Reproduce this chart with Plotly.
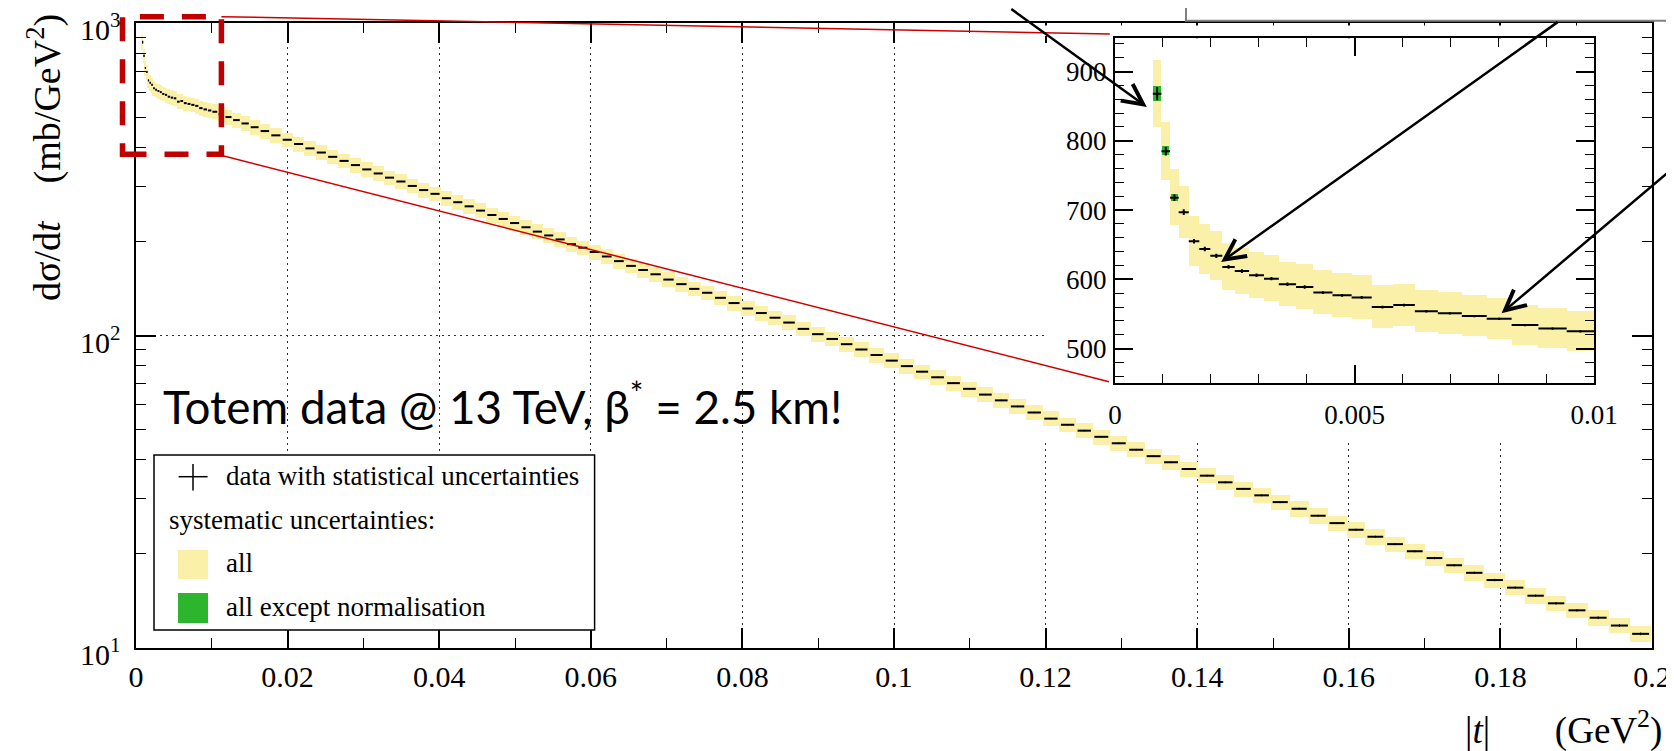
import math
import plotly.graph_objects as go

# ---------------- data ----------------
# bin edges in |t| (GeV^2)
t_edges = [
    0.00079, 0.00097, 0.00115, 0.00133, 0.00154, 0.00176, 0.00199, 0.00224, 0.00250, 0.00280,
    0.00311, 0.00342, 0.00378, 0.00414, 0.00454, 0.00494, 0.00536, 0.00581, 0.00626, 0.00674,
    0.00724, 0.00776, 0.00828, 0.00884, 0.00943, 0.01000,
    0.0108, 0.0117, 0.0127, 0.0138, 0.0150, 0.0163, 0.0177, 0.0192,
    0.0207, 0.0222, 0.0237, 0.0252, 0.0267, 0.0282, 0.0297, 0.0312, 0.0327, 0.0342,
    0.0357, 0.0372, 0.0387, 0.0402, 0.0417, 0.0432, 0.0447, 0.0462, 0.0477, 0.0492,
    0.0507, 0.0522, 0.0537, 0.0552, 0.0567, 0.0582, 0.0597,
    0.0613, 0.0629, 0.0645, 0.0661, 0.0677, 0.0694, 0.0711, 0.0728, 0.0745, 0.0762,
    0.0780, 0.0798, 0.0816, 0.0834, 0.0852, 0.0871, 0.0890, 0.0909, 0.0928, 0.0947,
    0.0967, 0.0987, 0.1007, 0.1027, 0.1047, 0.1068, 0.1089, 0.1110, 0.1131, 0.1152,
    0.1174, 0.1196, 0.1218, 0.1240, 0.1262, 0.1285, 0.1308, 0.1331, 0.1354, 0.1377,
    0.1401, 0.1425, 0.1449, 0.1473, 0.1497, 0.1522, 0.1547, 0.1572, 0.1597, 0.1622,
    0.1648, 0.1674, 0.1700, 0.1726, 0.1752, 0.1779, 0.1806, 0.1833, 0.1860, 0.1887,
    0.1915, 0.1943, 0.1971, 0.1999,
]

# d sigma / dt (mb/GeV^2)
dsdt = [
    868, 785, 718, 697, 655, 644, 634, 618, 612, 606,
    601, 593, 589, 581, 577, 574, 560, 563, 554, 551,
    547, 543, 534, 529, 525,
    520, 510, 500, 489, 477, 464, 451, 437, 423, 410,
    397, 385, 373, 362, 351, 340, 330, 320, 311, 301,
    292, 284, 275, 267, 259, 251, 243, 236, 229, 222,
    215, 209, 203, 196, 191, 185, 179, 173, 167, 162,
    157, 151, 146, 141, 137, 132, 127, 122, 118, 114,
    110, 105, 101, 97.5, 93.8, 90.2, 86.6, 83.1, 79.8, 76.6,
    73.5, 70.4, 67.5, 64.7, 62.0, 59.3, 56.7, 54.2, 51.8, 49.6,
    47.4, 45.2, 43.1, 41.1, 39.3, 37.4, 35.6, 33.9, 32.3, 30.8,
    29.3, 27.9, 26.5, 25.1, 23.9, 22.7, 21.5, 20.4, 19.4, 18.4,
    17.4, 16.5, 15.6, 14.7, 13.9, 13.2, 12.5, 11.8, 11.1,
]

# full systematic uncertainty (%, half height of the yellow boxes)
syst_pct = [
    5.6, 5.3, 5.6, 5.4, 5.6, 5.6, 5.5, 5.5, 5.4, 5.5,
    5.5, 5.4, 5.5, 5.5, 5.4, 5.5, 5.5, 5.4, 5.5, 5.4,
    5.4, 5.5, 5.4, 5.4, 5.4,
    5.5, 5.5, 5.5, 5.5, 5.5, 5.5, 5.4, 5.4, 5.4, 5.4,
    5.4, 5.4, 5.4, 5.4, 5.4, 5.4, 5.4, 5.4, 5.4, 5.4,
    5.4, 5.4, 5.4, 5.4, 5.4, 5.4, 5.4, 5.4, 5.4, 5.4,
    5.4, 5.4, 5.4, 5.4, 5.4, 5.4, 5.4, 5.4, 5.4, 5.4,
    5.4, 5.4, 5.4, 5.4, 5.4, 5.4, 5.4, 5.4, 5.4, 5.4,
    5.4, 5.4, 5.4, 5.4, 5.4, 5.4, 5.4, 5.4, 5.4, 5.4,
    5.4, 5.5, 5.5, 5.5, 5.5, 5.5, 5.5, 5.5, 5.5, 5.5,
    5.5, 5.5, 5.5, 5.5, 5.5, 5.5, 5.5, 5.5, 5.5, 5.5,
    5.6, 5.6, 5.6, 5.6, 5.6, 5.6, 5.6, 5.6, 5.6, 5.6,
    5.6, 5.6, 5.6, 5.6, 5.6, 5.6, 5.6, 5.6, 5.6,
]

# statistical uncertainty (%)
stat_pct = [
    1.1, 0.8, 0.7, 0.6, 0.5, 0.5, 0.5, 0.45, 0.45, 0.4,
    0.4, 0.4, 0.4, 0.35, 0.35, 0.35, 0.35, 0.35, 0.3, 0.3,
    0.3, 0.3, 0.3, 0.3, 0.3,
    0.3, 0.3, 0.3, 0.3, 0.3, 0.3, 0.3, 0.3, 0.3, 0.3,
    0.3, 0.3, 0.3, 0.3, 0.3, 0.3, 0.3, 0.3, 0.3, 0.3,
    0.3, 0.3, 0.3, 0.3, 0.3, 0.3, 0.3, 0.3, 0.3, 0.3,
    0.35, 0.35, 0.35, 0.35, 0.35, 0.35, 0.35, 0.35, 0.35, 0.35,
    0.4, 0.4, 0.4, 0.4, 0.4, 0.4, 0.4, 0.4, 0.4, 0.4,
    0.45, 0.45, 0.45, 0.45, 0.45, 0.5, 0.5, 0.5, 0.5, 0.5,
    0.55, 0.55, 0.55, 0.55, 0.55, 0.6, 0.6, 0.6, 0.6, 0.6,
    0.65, 0.65, 0.65, 0.65, 0.65, 0.7, 0.7, 0.7, 0.7, 0.7,
    0.75, 0.75, 0.75, 0.75, 0.8, 0.8, 0.8, 0.8, 0.85, 0.85,
    0.85, 0.9, 0.9, 0.9, 0.95, 0.95, 1.0, 1.0, 1.0,
]

# systematic uncertainty without normalisation (%), visible for the first bins only
syst_nonorm_pct = [1.3, 0.83, 0.74]

# y-axis decade labels
y_decades = [10, 100, 1000]

inset_t_max = 0.01

# ---------------- derived quantities ----------------
centers = [(a + b) / 2 for a, b in zip(t_edges[:-1], t_edges[1:])]
widths = [b - a for a, b in zip(t_edges[:-1], t_edges[1:])]
lo = [v * (1 - s / 100) for v, s in zip(dsdt, syst_pct)]
hi = [v * (1 + s / 100) for v, s in zip(dsdt, syst_pct)]
stat = [v * s / 100 for v, s in zip(dsdt, stat_pct)]

ins = [i for i in range(len(dsdt)) if t_edges[i + 1] <= inset_t_max + 1e-9]
ng = len(syst_nonorm_pct)
g_lo = [dsdt[i] * (1 - syst_nonorm_pct[i] / 100) for i in range(ng)]
g_hi = [dsdt[i] * (1 + syst_nonorm_pct[i] / 100) for i in range(ng)]

YELLOW = '#FAF0A8'
GREEN = '#2DB52D'
RED = '#C00000'
SERIF = 'Liberation Serif, Times New Roman, serif'

# ---------------- layout geometry (page pixels) ----------------
PAGE_W, PAGE_H = 1674, 751
OFF = 8                      # default page body margin
W, H = PAGE_W - OFF, PAGE_H - OFF
L, R, T, B = 136, 1652, 23, 648   # plot area in page pixels


def px(x):
    return (x - L) / (R - L)


def py(y):
    return (B - y) / (B - T)


def dx_main(x):
    return (x - L) / (R - L) * 0.2


def dy_main(y):
    return 10 ** (1 + 2 * (B - y) / (B - T))


fig = go.Figure()

# main plot: systematic band
fig.add_trace(go.Bar(
    x=centers, y=[h - l for h, l in zip(hi, lo)], base=lo, width=widths,
    marker=dict(color=YELLOW, line=dict(width=0)),
    xaxis='x', yaxis='y', showlegend=False, hoverinfo='skip'))
# main plot: data points with statistical uncertainties
fig.add_trace(go.Scatter(
    x=centers, y=dsdt, mode='markers',
    marker=dict(size=1, color='rgba(0,0,0,0)'),
    error_x=dict(type='data', array=[0.4 * w for w in widths], color='black', thickness=2, width=0),
    error_y=dict(type='data', array=stat, color='black', thickness=1, width=0),
    xaxis='x', yaxis='y', showlegend=False, hoverinfo='skip'))

# inset
fig.add_trace(go.Bar(
    x=[centers[i] for i in ins], y=[hi[i] - lo[i] for i in ins], base=[lo[i] for i in ins],
    width=[widths[i] for i in ins],
    marker=dict(color=YELLOW, line=dict(width=0)),
    xaxis='x2', yaxis='y2', showlegend=False, hoverinfo='skip'))
fig.add_trace(go.Bar(
    x=centers[:ng], y=[h - l for h, l in zip(g_hi, g_lo)], base=g_lo,
    width=[0.85 * w for w in widths[:ng]],
    marker=dict(color=GREEN, line=dict(width=0)),
    xaxis='x2', yaxis='y2', showlegend=False, hoverinfo='skip'))
fig.add_trace(go.Scatter(
    x=[centers[i] for i in ins], y=[dsdt[i] for i in ins], mode='markers',
    marker=dict(size=1, color='rgba(0,0,0,0)'),
    error_x=dict(type='data', array=[0.5 * widths[i] for i in ins], color='black', thickness=2, width=0),
    error_y=dict(type='data', array=[stat[i] for i in ins], color='black', thickness=2, width=0),
    xaxis='x2', yaxis='y2', showlegend=False, hoverinfo='skip'))

DOT = '1.5px,4.5px'
fig.update_layout(
    width=W, height=H,
    margin=dict(l=L - OFF, r=PAGE_W - R, t=T - OFF, b=PAGE_H - B, pad=0, autoexpand=False),
    paper_bgcolor='white', plot_bgcolor='white',
    showlegend=False, barmode='overlay', bargap=0,
    font=dict(family=SERIF, color='black', size=30),
    xaxis=dict(
        domain=[0, 1], range=[0, 0.2], tickmode='linear', tick0=0, dtick=0.02,
        ticks='inside', ticklen=20, tickwidth=1.5, tickcolor='black',
        showline=True, linecolor='black', linewidth=2, mirror='ticks',
        showgrid=True, gridcolor='#333333', gridwidth=1.2, griddash=DOT, zeroline=False,
        minor=dict(dtick=0.01, ticks='inside', ticklen=10, tickwidth=1.2, tickcolor='black', showgrid=False),
        tickfont=dict(family=SERIF, size=30, color='black'), ticklabelstandoff=1,
        ticklabeloverflow='allow', automargin=False,
    ),
    yaxis=dict(
        domain=[0, 1], type='log', range=[1, 3],
        tickmode='array', tickvals=y_decades, showticklabels=False,
        ticks='inside', ticklen=20, tickwidth=1.5, tickcolor='black',
        showline=True, linecolor='black', linewidth=2, mirror='ticks',
        showgrid=True, gridcolor='#333333', gridwidth=1.2, griddash=DOT, zeroline=False,
        minor=dict(tickmode='array',
                   tickvals=[20, 30, 40, 50, 60, 70, 80, 90, 200, 300, 400, 500, 600, 700, 800, 900],
                   ticks='inside', ticklen=10, tickwidth=1.2, tickcolor='black', showgrid=False),
        automargin=False,
    ),
    xaxis2=dict(
        domain=[px(1115), px(1594)], anchor='y2', range=[0, 0.01],
        tickmode='linear', tick0=0, dtick=0.005,
        ticks='inside', ticklen=18, tickwidth=1.5, tickcolor='black',
        showline=True, linecolor='black', linewidth=2, mirror='ticks',
        showgrid=False, zeroline=False,
        minor=dict(dtick=0.001, ticks='inside', ticklen=9, tickwidth=1.2, tickcolor='black', showgrid=False),
        tickfont=dict(family=SERIF, size=27, color='black'), ticklabelstandoff=6,
        ticklabeloverflow='allow', automargin=False,
    ),
    yaxis2=dict(
        domain=[py(383.3), py(38.3)], anchor='x2', range=[450, 948],
        tickmode='linear', tick0=0, dtick=100,
        ticks='inside', ticklen=18, tickwidth=1.5, tickcolor='black',
        showline=True, linecolor='black', linewidth=2, mirror='ticks',
        showgrid=False, zeroline=False,
        minor=dict(dtick=20, ticks='inside', ticklen=9, tickwidth=1.2, tickcolor='black', showgrid=False),
        tickfont=dict(family=SERIF, size=27, color='black'), ticklabelstandoff=1,
        ticklabeloverflow='allow', automargin=False,
    ),
)

shapes = []
# white area of the pasted inset: hides main grid lines (below traces)
shapes.append(dict(type='rect', xref='x', yref='y', layer='between',
                   x0=dx_main(1044), x1=0.2, y0=dy_main(443), y1=1000,
                   line=dict(width=0), fillcolor='white'))
# hides the main top ticks under the inset picture
shapes.append(dict(type='rect', xref='paper', yref='paper', layer='above',
                   x0=px(1044), x1=px(1641), y0=py(36), y1=py(25.5),
                   line=dict(width=0), fillcolor='white'))
# legend box
shapes.append(dict(type='rect', xref='paper', yref='paper', layer='above',
                   x0=px(154), x1=px(594.6), y0=py(630), y1=py(455),
                   line=dict(color='black', width=1.5), fillcolor='white'))
shapes.append(dict(type='line', xref='paper', yref='paper', layer='above',
                   x0=px(178.6), x1=px(207.6), y0=py(476.7), y1=py(476.7),
                   line=dict(color='black', width=1.5)))
shapes.append(dict(type='line', xref='paper', yref='paper', layer='above',
                   x0=px(193), x1=px(193), y0=py(464), y1=py(490.5),
                   line=dict(color='black', width=1.5)))
shapes.append(dict(type='rect', xref='paper', yref='paper', layer='above',
                   x0=px(178), x1=px(208), y0=py(579), y1=py(550),
                   line=dict(width=0), fillcolor=YELLOW))
shapes.append(dict(type='rect', xref='paper', yref='paper', layer='above',
                   x0=px(178), x1=px(208), y0=py(623), y1=py(593),
                   line=dict(width=0), fillcolor=GREEN))
# zoom connector lines
shapes.append(dict(type='line', xref='paper', yref='paper', layer='above',
                   x0=px(221.4), y0=py(16.7), x1=px(1109.8), y1=py(34),
                   line=dict(color='#D00000', width=1.5)))
shapes.append(dict(type='line', xref='paper', yref='paper', layer='above',
                   x0=px(222), y0=py(155.5), x1=px(1109), y1=py(381.7),
                   line=dict(color='#D00000', width=1.5)))
# dashed zoom rectangle
shapes.append(dict(type='rect', xref='paper', yref='paper', layer='above',
                   x0=px(122.5), x1=px(221.4), y0=py(154.3), y1=py(16.7),
                   line=dict(color=RED, width=5.5, dash='24px,18px'),
                   fillcolor='rgba(0,0,0,0)'))
# partially visible callout box at the top
shapes.append(dict(type='rect', xref='paper', yref='paper', layer='above',
                   x0=px(1186), x1=px(1700), y0=py(20.7), y1=py(-20),
                   line=dict(color='#808080', width=2), fillcolor='white'))
fig.update_layout(shapes=shapes)

ann = []


def text_ann(x, y, text, size, family=SERIF, xanchor='left', angle=0):
    return dict(xref='paper', yref='paper', x=px(x), y=py(y), text=text, showarrow=False,
                xanchor=xanchor, yanchor='middle', textangle=angle,
                font=dict(family=family, size=size, color='black'))


# y-axis decade labels (10^n), drawn at the decade ticks, slightly below centre like the original
for d in y_decades:
    n = int(round(math.log10(d)))
    ann.append(dict(xref='paper', yref='y', x=px(123), y=n, yshift=-4, showarrow=False,
                    text='10<sup>%d</sup>' % n, xanchor='right', yanchor='middle',
                    font=dict(family=SERIF, size=30, color='black')))

ann.append(text_ann(224, 476, 'data with statistical uncertainties', 27))
ann.append(text_ann(167, 520, 'systematic uncertainties:', 27))
ann.append(text_ann(224, 563, 'all', 27))
ann.append(text_ann(224, 607, 'all except normalisation', 27))
ann.append(dict(xref='paper', yref='paper', x=px(45), y=py(158), showarrow=False,
                text='dσ/d<i>t</i>&nbsp;&nbsp;&nbsp;&nbsp;(mb/GeV<sup>2</sup>)',
                textangle=-90, xanchor='center', yanchor='middle',
                font=dict(family=SERIF, size=38, color='black')))
ann.append(dict(xref='paper', yref='paper', x=px(1664), y=py(728), showarrow=False,
                text='|<i>t</i>|&nbsp;&nbsp;&nbsp;&nbsp;&nbsp;&nbsp;&nbsp;(GeV<sup>2</sup>)',
                xanchor='right', yanchor='middle',
                font=dict(family=SERIF, size=37, color='black')))
ann.append(text_ann(161, 403, 'Totem data @ 13 TeV, β<sup>*</sup> = 2.5 km!', 45.8, family='Lato'))

# arrows pointing to inset points (tips in inset data coordinates, tails as pixel offsets)
for tx, ty, ax, ay in [(0.000664, 849, -137, -127),
                       (0.002215, 625, 338, -241),
                       (0.00807, 551, 198, -146)]:
    ann.append(dict(xref='x2', yref='y2', x=tx, y=ty, ax=ax, ay=ay, axref='pixel', ayref='pixel',
                    text='', showarrow=True, arrowhead=5, arrowsize=1.6, arrowwidth=2.5,
                    arrowcolor='black', standoff=0))
fig.update_layout(annotations=ann)

fig.write_html('out.html')
